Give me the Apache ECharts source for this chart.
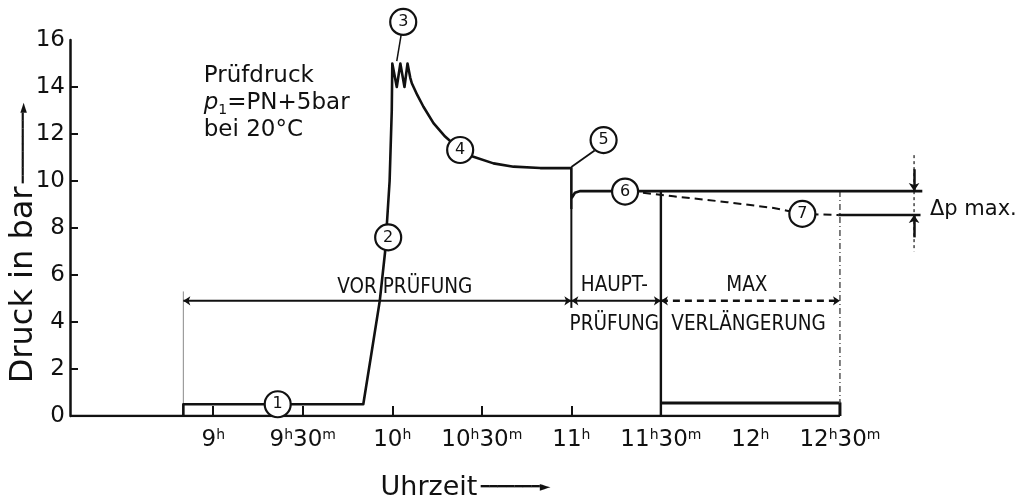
<!DOCTYPE html>
<html><head><meta charset="utf-8">
<script src="https://cdn.jsdelivr.net/npm/echarts@6/dist/echarts.min.js"></script>
<style>html,body{margin:0;padding:0;background:#fff}#c{width:1024px;height:502px}</style>
</head><body><div id="c"></div>
<script>
// ---- data (x = time of day in hours, y = pressure in bar) ----
const yTickValues = [2, 4, 6, 8, 10, 12, 14];
const xLabelHours = [9, 9.5, 10, 10.5, 11, 11.5, 12, 12.5];
const xTickHours = [9, 9.5, 10, 10.5, 11];
const baseline = [[8.2, 0], [12.5, 0]];
const mainCurve = [[8.833,0],[8.833,0.5],[9.838,0.5],[9.88,2.5],[9.93,4.9],[9.96,7.0],[9.985,10.0],[9.997,13.0],
  [10.0,15.0],[10.025,14.0],[10.045,15.0],[10.068,14.0],[10.085,15.0],[10.1,14.4],[10.109,14.16],[10.14,13.65],
  [10.174,13.16],[10.23,12.46],[10.295,11.89],[10.379,11.32],[10.453,11.03],[10.565,10.75],[10.677,10.61],
  [10.826,10.55],[11.0,10.55],[11.0,8.85],[11.0,9.25],[11.02,9.5],[11.05,9.57],[12.96,9.57]];
const line11Lower = [[11.0, 8.85], [11.0, 4.6]];
const line1130 = [[11.5, 9.57], [11.5, 0]];
const lowBox = [[11.5, 0.55], [12.5, 0.55], [12.5, 0]];
const leftEdge = [[8.833, 0.5], [8.833, 5.3]];
const phaseSolid = [[8.833, 4.9], [11.5, 4.9]];
const phaseDashed = [[11.5, 4.9], [12.5, 4.9]];
const endDotted = [[12.5, 9.57], [12.5, 0.55]];
const decayDashed = [[11.40,9.5],[11.57,9.35],[11.87,9.1],[12.13,8.85],[12.29,8.6],[12.49,8.55]];
const lowerRef = [[12.49, 8.55], [12.95, 8.55]];
const dpLine = [[12.914, 11.1], [12.914, 7.0]];
const dpArrows = [[[12.914, 10.5], [12.914, 9.57]], [[12.914, 7.6], [12.914, 8.55]]];
const phaseArrows = [[[8.833, 4.9], [11.0, 4.9]], [[11.0, 4.9], [11.5, 4.9]], [[11.5, 4.9], [12.5, 4.9]]];
const leader3 = [[10.05, 16.25], [10.025, 15.1]];
const leader5 = [[11.13, 11.3], [11.0, 10.6]];
const circles = [[9.36, 0.5, '1'], [9.977, 7.6, '2'], [10.061, 16.77, '3'], [10.379, 11.32, '4'],
  [11.18, 11.74, '5'], [11.30, 9.55, '6'], [12.29, 8.6, '7']];
const phaseTexts = [[10.07, 5.45, 'VOR PRÜFUNG'], [11.24, 5.55, 'HAUPT-'], [11.24, 3.87, 'PRÜFUNG'],
  [11.98, 5.55, 'MAX'], [11.99, 3.87, 'VERLÄNGERUNG']];
const dpText = [[13.0, 8.77, 'Δp max.']];
const noteText = [[8.944, 13.3, 'Prüfdruck\n{i|p}{sb|1}=PN+5bar\nbei 20°C']];

const INK = '#111111';
const F = "'DejaVu Sans', 'Noto Sans', sans-serif";
const FN = "'Liberation Sans Narrow', 'DejaVu Sans Condensed', 'Roboto Condensed', 'DejaVu Sans', sans-serif";
const CLEAR = 'rgba(0,0,0,0)';

function ln(data, opt) {
  opt = opt || {};
  return {
    type: 'line', data: data, symbol: 'none', showSymbol: false, silent: true, animation: false,
    clip: opt.clip !== undefined ? opt.clip : true, z: opt.z || 2,
    lineStyle: { color: opt.color || INK, width: opt.width || 2.5, type: opt.type || 'solid', cap: 'butt', join: 'round' }
  };
}

function segMarkLine(segs, size, symbols, lineStyle) {
  return {
    silent: true, symbol: symbols, symbolSize: size, animation: false,
    label: { show: false },
    lineStyle: lineStyle,
    data: segs.map(s => [{ coord: s[0] }, { coord: s[1] }])
  };
}

function textSeries(data, label) {
  return {
    type: 'scatter', data: data, z: 11, silent: true, animation: false, clip: false,
    symbol: 'circle', symbolSize: 1, itemStyle: { color: CLEAR, opacity: 1 },
    label: Object.assign({ show: true, formatter: p => p.data[2], color: INK, opacity: 1 }, label)
  };
}

const chart = echarts.init(document.getElementById('c'), null, { renderer: 'canvas' });

const series = [
  ln(baseline, { width: 2.5 }),
  ln(mainCurve, { width: 2.6, z: 3 }),
  ln(line11Lower, { width: 2 }),
  ln(line1130, { width: 2.4 }),
  ln(lowBox, { width: 3 }),
  ln(leftEdge, { width: 1, color: '#8a8a8a' }),
  Object.assign(ln(phaseSolid, { width: 2 }), {
    markLine: segMarkLine(phaseArrows, [7, 7], ['arrow', 'arrow'], { color: INK, width: 0.01, type: 'solid' })
  }),
  ln(phaseDashed, { width: 2.5, type: [7, 5] }),
  ln(endDotted, { width: 1.5, color: '#555', type: [6, 3, 1, 3] }),
  ln(decayDashed, { width: 2, type: [8, 5] }),
  ln(lowerRef, { width: 2.5 }),
  Object.assign(ln(dpLine, { width: 1.5, color: '#444', type: [3, 3] }), {
    markLine: segMarkLine(dpArrows, [8, 8], ['none', 'arrow'], { color: INK, width: 2.5, type: 'solid' })
  }),
  ln(leader3, { width: 1.5, clip: false }),
  ln(leader5, { width: 1.8 }),
  {
    type: 'scatter', data: circles, clip: false, z: 10, silent: true, animation: false,
    symbol: 'circle', symbolSize: 26,
    itemStyle: { color: '#fff', borderColor: INK, borderWidth: 2.2, opacity: 1 },
    label: { show: true, position: 'inside', formatter: p => p.data[2], color: INK, fontSize: 16, fontFamily: F, opacity: 1 }
  },
  textSeries(phaseTexts, { position: 'inside', fontSize: 20.5, fontFamily: FN }),
  textSeries(dpText, { position: 'right', distance: 0, fontSize: 21, fontFamily: F }),
  textSeries(noteText, { position: 'right', distance: 0, align: 'left', fontSize: 23, lineHeight: 27, fontFamily: F,
    rich: { i: { fontStyle: 'italic', fontSize: 23, fontFamily: F, lineHeight: 27, color: INK },
            sb: { fontSize: 14, fontFamily: F, lineHeight: 14, verticalAlign: 'bottom', color: INK } } })
];

chart.setOption({
  backgroundColor: '#fff',
  animation: false,
  grid: { left: 70, right: 5, top: 40, bottom: 86, containLabel: false, outerBoundsMode: 'none' },
  xAxis: {
    type: 'value', min: 8.2, max: 13.5,
    name: '{t|Uhrzeit} {a|━━━━━━━►}',
    nameLocation: 'middle', nameGap: 58, nameMoveOverlap: false,
    nameTextStyle: { padding: [0, 158, 0, 0], rich: {
      t: { fontSize: 27, fontFamily: F, color: INK },
      a: { fontSize: 14, fontFamily: F, color: INK } } },
    axisLine: { show: false },
    axisTick: { show: true, inside: true, length: 10, customValues: xTickHours, lineStyle: { color: INK, width: 2 } },
    splitLine: { show: false },
    axisLabel: {
      customValues: xLabelHours, margin: 12, color: INK, fontFamily: F, fontSize: 23,
      formatter: v => {
        const h = Math.floor(v), m = Math.round((v - h) * 60);
        return m ? '{n|' + h + '}{s|h}{n|' + m + '}{s|m}' : '{n|' + h + '}{s|h}';
      },
      rich: {
        n: { fontSize: 23, fontFamily: F, color: INK, lineHeight: 24 },
        s: { fontSize: 14, fontFamily: F, color: INK, verticalAlign: 'top', lineHeight: 13 }
      }
    }
  },
  yAxis: {
    type: 'value', min: 0, max: 16, interval: 2,
    name: '{t|Druck in bar} {a|━━━━━━━━━►}',
    nameLocation: 'middle', nameRotate: 90, nameGap: 30, nameMoveOverlap: false,
    nameTextStyle: { padding: [0, 30, 0, 0], rich: {
      t: { fontSize: 32, fontFamily: F, color: INK },
      a: { fontSize: 13, fontFamily: F, color: INK } } },
    axisLine: { show: true, lineStyle: { color: INK, width: 2.5 } },
    axisTick: { show: true, inside: true, length: 8, customValues: yTickValues, lineStyle: { color: INK, width: 2 } },
    splitLine: { show: false },
    axisLabel: { margin: 5, color: INK, fontFamily: F, fontSize: 23 }
  },
  series: series
});
</script></body></html>
